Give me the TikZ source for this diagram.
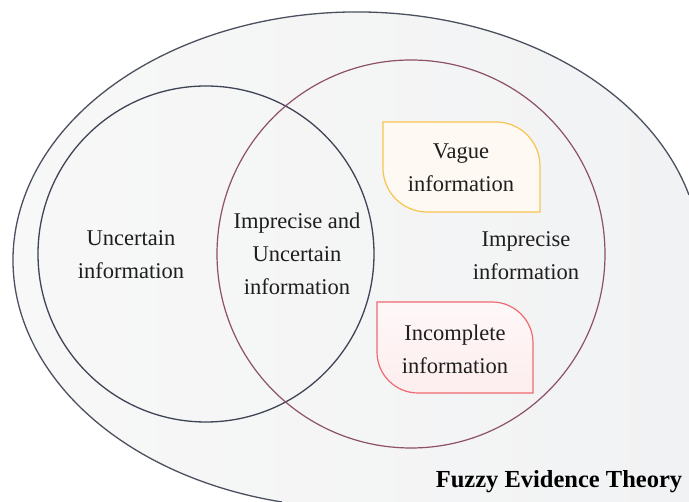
\documentclass[tikz,border=0pt]{standalone}
\usepackage{fontspec}
\setmainfont{Liberation Serif}
\definecolor{outerline}{HTML}{4A505E}
\definecolor{uncline}{HTML}{3E4454}
\definecolor{impline}{HTML}{8C5068}
\definecolor{vagueline}{HTML}{F7C54E}
\definecolor{vaguefill}{HTML}{FEFAF3}
\definecolor{incline}{HTML}{EE6A72}
\definecolor{bgleft}{HTML}{F8F8F8}
\definecolor{bgright}{HTML}{F1F2F3}
\definecolor{txtcol}{HTML}{1E1E1E}
\begin{document}
\begin{tikzpicture}[x=1pt,y=-1pt,
  txt/.style={font=\fontsize{22.5}{33}\selectfont, align=center, text=txtcol, inner sep=0pt},
  titletxt/.style={font=\fontsize{24.5}{30}\selectfont\bfseries, text=black, inner sep=0pt},
  outerstroke/.style={draw=outerline, line width=1.3pt},
  uncstroke/.style={draw=uncline, line width=1.3pt},
  impstroke/.style={draw=impline, line width=1.2pt},
  vaguebox/.style={draw=vagueline, line width=1.2pt, fill=vaguefill},
  incbox/.style={draw=incline, line width=1.2pt, top color=white!95!incline, bottom color=white!88!incline}
]
\useasboundingbox (0,0) rectangle (689,502);
\fill[white] (0,0) rectangle (689,502);
% outer region (ellipse running off the bottom-right edges)
\shade[left color=bgleft, right color=bgright]
  (282,502) arc[start angle=102.6, end angle=344.8, x radius=344, y radius=248]
  -- (689,502) -- cycle;
\draw[outerstroke] (282,502) arc[start angle=102.6, end angle=344.8, x radius=344, y radius=248];
% circles
\draw[uncstroke] (206,254) circle[radius=168];
\draw[impstroke] (411,254) circle[radius=194];
% boxes
\draw[vaguebox] (383,122) -- (496,122) arc[start angle=-90, end angle=0, radius=44]
  -- (540,212) -- (427,212) arc[start angle=90, end angle=180, radius=44] -- cycle;
\draw[incbox] (377,302) -- (492,302) arc[start angle=-90, end angle=0, radius=41]
  -- (533,393) -- (418,393) arc[start angle=90, end angle=180, radius=41] -- cycle;
% texts
\node[txt] (unc) at (131,255) {Uncertain\\information};
\node[txt] (both) at (297,254) {Imprecise and\\Uncertain\\information};
\node[txt] (imp) at (526,256) {Imprecise\\information};
\node[txt] (vague) at (461,168) {Vague\\information};
\node[txt] (incomp) at (455,349) {Incomplete\\information};
\node[titletxt] (title) at (559,482) {Fuzzy Evidence Theory};
\end{tikzpicture}
\end{document}
